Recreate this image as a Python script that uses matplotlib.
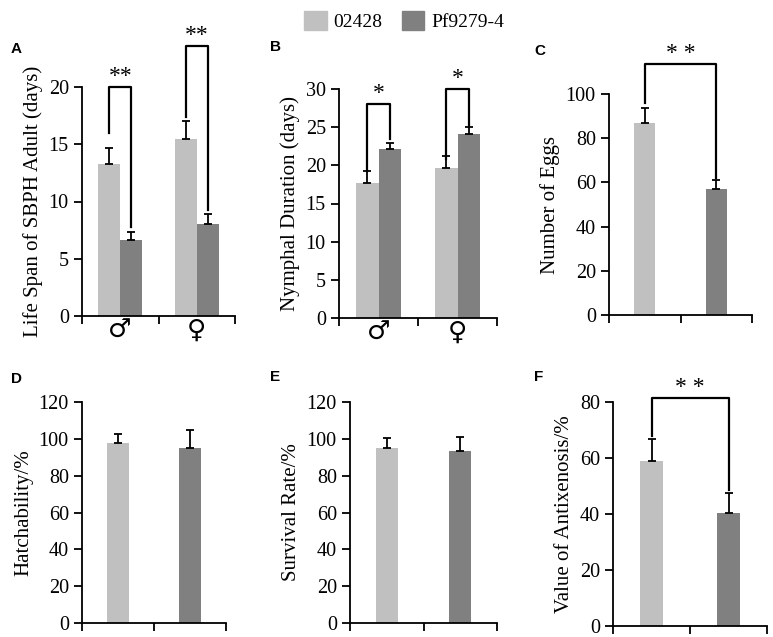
#!/usr/bin/env python3
#
# SBPH life-table bar charts, 02428 vs Pf9279-4
#

import matplotlib
matplotlib.use('Agg')
import numpy as np
import matplotlib.pyplot as plt

plt.rcParams['font.family'] = ['Liberation Serif', 'DejaVu Sans']
plt.rcParams['axes.linewidth'] = 1.3

series = ['02428', 'Pf9279-4']
colors = ['#c0c0c0', '#808080']
sexes = ['\u2642', '\u2640']

# A: life span (days), [male, female]
life_mean = [[13.3, 15.5], [6.6, 8.0]]
life_err = [[1.4, 1.5], [0.75, 0.9]]
# B: nymphal duration (days)
nymph_mean = [[17.7, 19.7], [22.15, 24.1]]
nymph_err = [[1.5, 1.5], [0.75, 0.9]]
# C-F: single value per strain
eggs_mean = [87.1, 57.0]
eggs_err = [6.4, 4.2]
hatch_mean = [97.7, 95.0]
hatch_err = [4.9, 10.0]
surv_mean = [95.0, 93.2]
surv_err = [5.2, 7.8]
anti_mean = [59.0, 40.3]
anti_err = [7.9, 7.1]

W, H = 773, 637
fig = plt.figure(figsize=(W / 100, H / 100), dpi=100)


def add_ax(left, right, top, bottom):
	return fig.add_axes([left / W, (H - bottom) / H, (right - left) / W, (bottom - top) / H])


def letter(ch, x, y):
	fig.text(x / W, 1 - y / H, ch, fontsize=11, fontweight='bold',
		family='Liberation Sans', va='top', ha='left')


def style(ax, ylabel, ymax, step, ncat):
	ax.set_xlim(0, ncat)
	ax.set_ylim(0, ymax)
	ax.set_yticks(np.arange(0, ymax + 0.1, step))
	ax.set_xticks(np.arange(ncat + 1))
	ax.set_xticklabels([])
	ax.spines['top'].set_visible(False)
	ax.spines['right'].set_visible(False)
	ax.tick_params(axis='both', direction='out', length=6, width=1.3, labelsize=14.5)
	ax.set_ylabel(ylabel, fontsize=15)


def bracket(ax, x1, x2, y1, top, y2, stars):
	ax.plot([x1, x1, x2, x2], [y1, top, top, y2], color='black', lw=1.6, clip_on=False)
	ax.text((x1 + x2) / 2, top, stars, ha='center', va='bottom', fontsize=17, clip_on=False)


def grouped(ax, means, errs):
	x = np.arange(2) + 0.5
	off = [-0.145, 0.145]
	for k in range(2):
		ax.bar(x + off[k], means[k], width=0.29, color=colors[k], label=series[k], zorder=2)
		ax.errorbar(x + off[k], means[k], yerr=[np.zeros(2), errs[k]], fmt='none',
			ecolor='black', elinewidth=1.3, capsize=3, capthick=1.3, zorder=3)


def sex_labels(ax):
	x = np.arange(2) + 0.5
	ax.set_xticks(x, minor=True)
	ax.tick_params(axis='x', which='minor', length=0, pad=1, labelsize=19)
	ax.set_xticklabels(sexes, minor=True, fontsize=19, family='DejaVu Sans')


def single(ax, means, errs):
	x = np.arange(2) + 0.5
	ax.bar(x, means, width=0.3, color=colors, zorder=2)
	ax.errorbar(x, means, yerr=[np.zeros(2), errs], fmt='none',
		ecolor='black', elinewidth=1.3, capsize=3, capthick=1.3, zorder=3)


# A
ax = add_ax(82, 235, 87, 316)
grouped(ax, life_mean, life_err)
style(ax, 'Life Span of SBPH Adult (days)', 20, 5, 2)
sex_labels(ax)
bracket(ax, 0.355, 0.645, 16.0, 20.0, 7.8, '**')
bracket(ax, 1.355, 1.645, 17.4, 23.6, 9.3, '**')
letter('A', 11, 42)

# B
ax = add_ax(339, 497, 89, 318)
grouped(ax, nymph_mean, nymph_err)
style(ax, 'Nymphal Duration (days)', 30, 5, 2)
sex_labels(ax)
bracket(ax, 0.355, 0.645, 19.3, 28.0, 23.5, '*')
bracket(ax, 1.355, 1.645, 20.8, 30.0, 25.0, '*')
letter('B', 270, 40)

# C
ax = add_ax(609, 752, 94, 315)
single(ax, eggs_mean, eggs_err)
style(ax, 'Number of Eggs', 100, 20, 2)
bracket(ax, 0.5, 1.5, 95.9, 113.6, 62.0, '* *')
letter('C', 534, 44)

# D
ax = add_ax(82, 226, 402, 623)
single(ax, hatch_mean, hatch_err)
style(ax, 'Hatchability/%', 120, 20, 2)
letter('D', 11, 372)

# E
ax = add_ax(350, 497, 402, 623)
single(ax, surv_mean, surv_err)
style(ax, 'Survival Rate/%', 120, 20, 2)
letter('E', 270, 370)

# F
ax = add_ax(613, 767, 402, 626)
single(ax, anti_mean, anti_err)
style(ax, 'Value of Antixenosis/%', 80, 20, 2)
bracket(ax, 0.5, 1.5, 68.0, 81.4, 48.6, '* *')
letter('F', 534, 370)

handles = [plt.Rectangle((0, 0), 1, 1, color=c) for c in colors]
fig.legend(handles, series, loc='upper center', bbox_to_anchor=(404 / W, 1.01), ncol=2,
	frameon=False, fontsize=14, handlelength=1.15, handleheight=1.15,
	handletextpad=0.35, columnspacing=1.0)

plt.savefig('out.png', dpi=100)
